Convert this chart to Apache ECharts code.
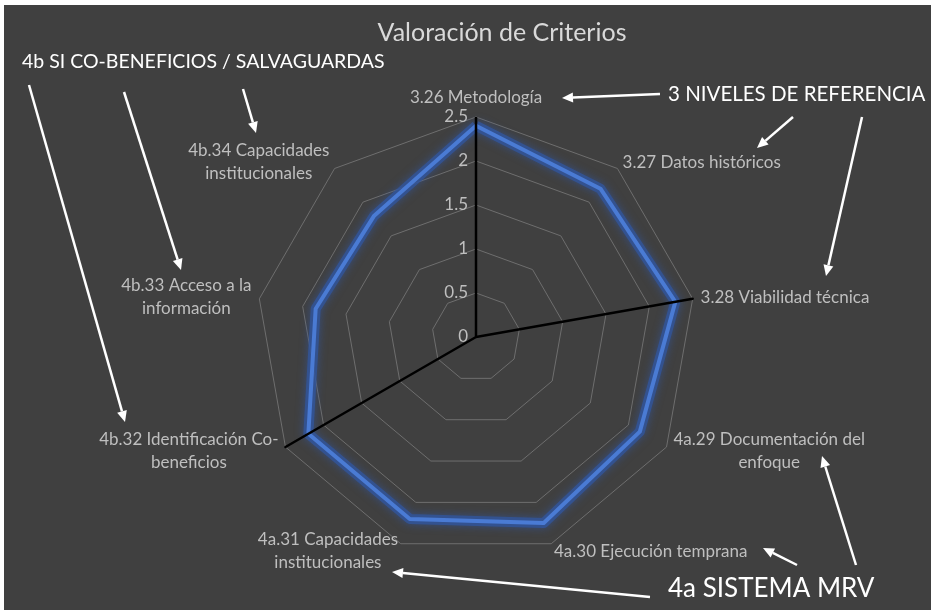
<!DOCTYPE html>
<html>
<head>
<meta charset="utf-8">
<script src="https://cdn.jsdelivr.net/npm/echarts@6/dist/echarts.min.js"></script>
<style>
    html, body { margin: 0; padding: 0; background: #fff; }
    #radar { position: absolute; left: 4px; top: 5px; width: 927px; height: 605px; }
</style>
</head>
<body>
<div id="radar"></div>
<script>
// criterios (en sentido horario desde arriba)
var criterios = ['3.26 Metodología', '3.27 Datos históricos', '3.28 Viabilidad técnica',
    '4a.29 Documentación del\nenfoque', '4a.30 Ejecución temprana', '4a.31 Capacidades\ninstitucionales',
    '4b.32 Identificación Co-\nbeneficios', '4b.33 Acceso a la\ninformación', '4b.34 Capacidades\ninstitucionales'];
var valoracion = [2.4, 2.2, 2.3, 2.15, 2.25, 2.2, 2.2, 1.85, 1.8];
// lineas negras que separan los grupos
var divisiones = [2.5, 0, 2.5, 0, 0, 0, 2.5, 0, 0];
var maximo = 2.5;

var fuente = 'Lato';
var gris = '#bfbfbf';

// echarts dibuja el radar en sentido antihorario
function horario(arr) {
    return [arr[0]].concat(arr.slice(1).reverse());
}

var indicadores = horario(criterios).map(function (c, i) {
    var ind = {name: c, min: 0, max: maximo};
    if (i === 0) {
        ind.axisLabel = {show: true, color: gris, fontSize: 17, fontFamily: fuente, margin: 8};
    }
    return ind;
});

// flechas blancas (coordenadas de pagina)
var flechas = [
    [660, 94, 562, 98],
    [793, 117, 757, 148],
    [862, 117, 826, 276],
    [29, 85, 125, 422],
    [124, 92, 181, 270],
    [243, 89, 256, 133],
    [650, 597, 392, 572],
    [797, 565, 763, 548],
    [856, 565, 822, 456]
];

function flecha(f) {
    var x1 = f[0] - 4, y1 = f[1] - 5, x2 = f[2] - 4, y2 = f[3] - 5;
    var a = Math.atan2(y2 - y1, x2 - x1);
    var L = 11, W = 5;
    var bx = x2 - L * Math.cos(a), by = y2 - L * Math.sin(a);
    return [
        {type: 'line', shape: {x1: x1, y1: y1, x2: bx, y2: by}, style: {stroke: '#fff', lineWidth: 2.5}},
        {type: 'polygon', shape: {points: [[x2, y2],
            [bx + W * Math.sin(a), by - W * Math.cos(a)],
            [bx - W * Math.sin(a), by + W * Math.cos(a)]]}, style: {fill: '#fff'}}
    ];
}

var graficos = [];
flechas.forEach(function (f) { graficos = graficos.concat(flecha(f)); });
graficos.push(
    {type: 'text', left: 18, top: 47, style: {text: '4b SI CO-BENEFICIOS / SALVAGUARDAS', fill: '#fff', font: '19.5px ' + fuente}},
    {type: 'text', left: 664, top: 79, style: {text: '3 NIVELES DE REFERENCIA', fill: '#fff', font: '20.5px ' + fuente}},
    {type: 'text', left: 664, top: 571, style: {text: '4a SISTEMA MRV', fill: '#fff', font: '26px ' + fuente}}
);

var myChart = echarts.init(document.getElementById('radar'));
var option = {
    backgroundColor: '#404040',
    animation: false,
    title: {
        text: 'Valoración de Criterios',
        left: 493,
        top: 10,
        textAlign: 'center',
        textStyle: {color: '#d9d9d9', fontSize: 25, fontWeight: 'normal', fontFamily: fuente}
    },
    radar: {
        center: [472, 332],
        radius: 220,
        startAngle: 90,
        splitNumber: 5,
        shape: 'polygon',
        indicator: indicadores,
        nameGap: 8,
        axisName: {
            color: gris,
            fontSize: 17,
            fontFamily: fuente,
            formatter: function (n) {
                return n.split('\n').map(function (s) { return '{c|' + s + '}'; }).join('\n');
            },
            rich: {c: {align: 'center', color: gris, fontSize: 17, fontFamily: fuente, lineHeight: 23}}
        },
        axisLine: {show: false},
        axisTick: {show: false},
        axisLabel: {show: false},
        splitArea: {show: false},
        splitLine: {lineStyle: {color: '#6e6e6e', width: 1}}
    },
    series: [
        {
            // halo azul
            type: 'radar',
            symbol: 'none',
            silent: true,
            lineStyle: {color: 'rgba(50,86,158,0.75)', width: 10, shadowBlur: 8, shadowColor: 'rgba(50,86,158,0.9)'},
            data: [{value: horario(valoracion), name: 'Valoración'}]
        },
        {
            type: 'radar',
            symbol: 'none',
            silent: true,
            lineStyle: {color: '#4a7bd4', width: 4},
            data: [{value: horario(valoracion), name: 'Valoración'}]
        },
        {
            type: 'radar',
            symbol: 'none',
            silent: true,
            z: 5,
            lineStyle: {color: '#000', width: 2.5},
            data: [{value: horario(divisiones), name: 'Divisiones'}]
        }
    ],
    graphic: graficos
};
myChart.setOption(option);
</script>
</body>
</html>
